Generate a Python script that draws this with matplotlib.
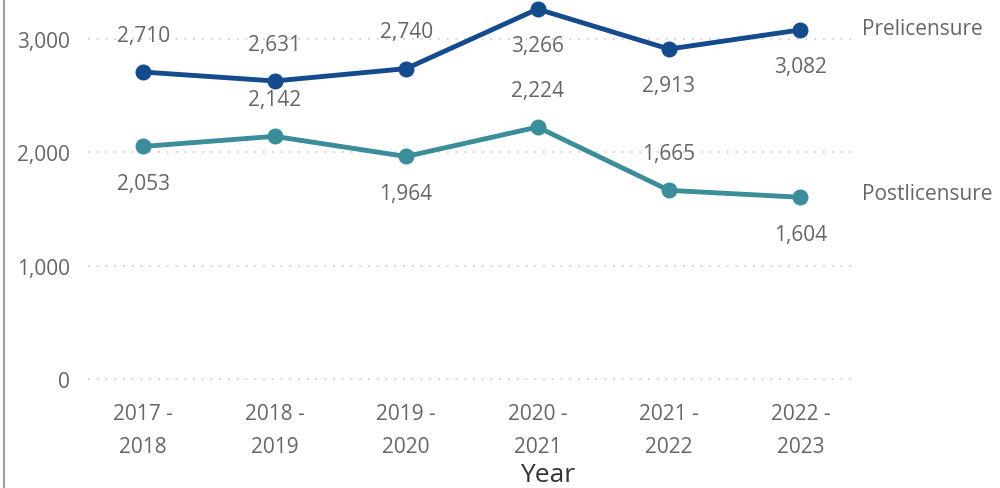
import matplotlib
matplotlib.use("Agg")
import matplotlib.pyplot as plt
from matplotlib.lines import Line2D

years = ["2017 -\n2018", "2018 -\n2019", "2019 -\n2020", "2020 -\n2021", "2021 -\n2022", "2022 -\n2023"]
prelicensure = [2710, 2631, 2740, 3266, 2913, 3082]
postlicensure = [2053, 2142, 1964, 2224, 1665, 1604]
# +1 = label above the point, -1 = label below
pre_label_side = [1, 1, 1, -1, -1, -1]
post_label_side = [-1, 1, -1, 1, 1, -1]
yticks = [0, 1000, 2000, 3000]

pre_color = "#134b8c"
post_color = "#3b8e99"
text_color = "#666666"
fs = 15

plt.rcParams["font.family"] = ["Open Sans", "DejaVu Sans"]

fig = plt.figure(figsize=(10, 4.89), dpi=100)
ax = fig.add_axes([0.088, 0.20, 0.765, 0.80])

x = list(range(len(years)))
ax.set_xlim(-0.42, 5.40)
ax.set_ylim(-100, 3355)

for y in yticks:
    ax.axhline(y, color="#d6d6d6", linestyle=(0, (1, 3.5)), linewidth=1.4, zorder=0)

for vals, sides, col, name, name_dy in [
    (prelicensure, pre_label_side, pre_color, "Prelicensure", 1),
    (postlicensure, post_label_side, post_color, "Postlicensure", 3),
]:
    ax.plot(x, vals, color=col, linewidth=3.5, marker="o", markersize=10.5,
            clip_on=False, zorder=3, solid_capstyle="round")
    for xi, v, s in zip(x, vals, sides):
        ax.annotate(f"{v:,}", (xi, v), xytext=(0, 26.5 * s), textcoords="offset points",
                    ha="center", va="center", fontsize=fs, color=text_color)
    ax.annotate(name, (x[-1], vals[-1]), xytext=(44, name_dy), textcoords="offset points",
                ha="left", va="center", fontsize=fs, color=text_color, annotation_clip=False)

ax.set_yticks(yticks)
ax.set_yticklabels([f"{v:,}" for v in yticks])
ax.set_xticks(x)
ax.set_xticklabels(years, linespacing=1.75)
ax.tick_params(axis="both", length=0, labelsize=fs, labelcolor=text_color)
ax.tick_params(axis="y", pad=13)
ax.tick_params(axis="x", pad=9)
for sp in ax.spines.values():
    sp.set_visible(False)

fig.text(0.548, 0.002, "Year", ha="center", va="bottom", fontsize=19, color="#333333")

# left panel border
fig.add_artist(Line2D([0.004, 0.004], [0, 1], transform=fig.transFigure,
                      color="#a0a0a0", linewidth=1.5))

fig.savefig("out.png", dpi=100)
